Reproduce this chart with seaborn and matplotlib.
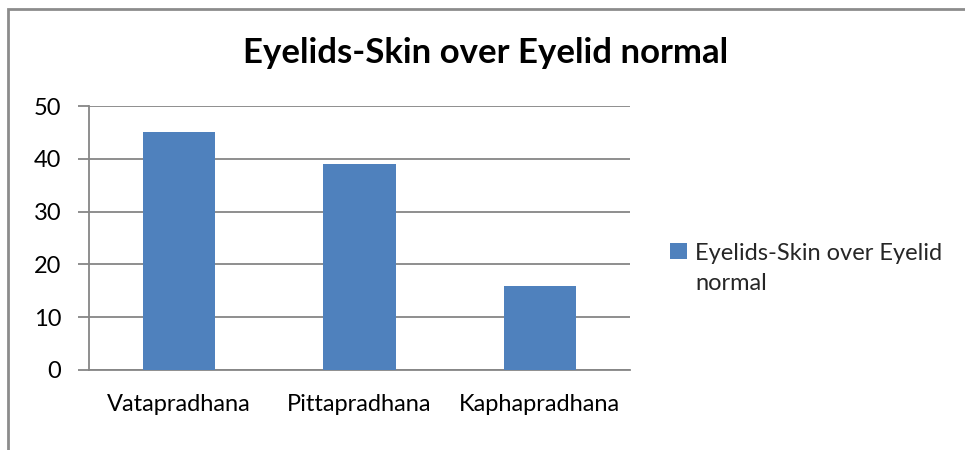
import matplotlib
matplotlib.use("Agg")
import matplotlib.pyplot as plt
import seaborn as sns
import pandas as pd
from matplotlib.patches import Rectangle, Patch

categories = ["Vatapradhana", "Pittapradhana", "Kaphapradhana"]
values = [45, 39, 16]
series_name = "Eyelids-Skin over Eyelid normal"
y_ticks = [0, 10, 20, 30, 40, 50]

sns.set_theme(style="white")
plt.rcParams["font.family"] = ["Lato", "DejaVu Sans"]

bar_color = "#4F81BD"
grid_color = "#868686"

df = pd.DataFrame({"category": categories, "value": values})

fig = plt.figure(figsize=(9.65, 4.5), dpi=100)
ax = fig.add_axes([0.0922, 0.1778, 0.5606, 0.5866])

sns.barplot(data=df, x="category", y="value", color=bar_color,
            width=0.4, saturation=1, ax=ax, zorder=3,
            edgecolor="none", linewidth=0)

ax.set_xlim(-0.5, 2.5)
ax.set_ylim(0, 50)
ax.set_yticks(y_ticks)
ax.set_yticklabels([str(t) for t in y_ticks], fontsize=17, color="black")
ax.yaxis.grid(True, color=grid_color, linewidth=1.3, zorder=0)
ax.set_axisbelow(True)

# category labels centred under bars, tick marks on category boundaries
ax.set_xticks(range(len(categories)))
ax.set_xticklabels(categories, fontsize=17, color="black")
ax.tick_params(axis="x", which="major", length=0, pad=17)
ax.set_xticks([-0.5, 0.5, 1.5, 2.5], minor=True)
ax.tick_params(axis="x", which="minor", length=8, width=1.3,
               color=grid_color, direction="out")
ax.tick_params(axis="y", which="major", length=8, width=1.3,
               color=grid_color, direction="out", pad=12, left=True)

for side in ["top", "right"]:
    ax.spines[side].set_visible(False)
for side in ["left", "bottom"]:
    ax.spines[side].set_color(grid_color)
    ax.spines[side].set_linewidth(1.3)

ax.set_xlabel("")
ax.set_ylabel("")

fig.text(0.503, 0.882, series_name, ha="center", va="center",
         fontsize=25, fontweight="bold", color="black")

legend_size = 17
line_spacing = 1.5
handle = Patch(facecolor=bar_color, edgecolor="none")
leg = fig.legend([handle], ["Eyelids-Skin over Eyelid\nnormal"],
                 loc="upper left", bbox_to_anchor=(0.685, 0.48),
                 frameon=False, fontsize=legend_size, handlelength=0.7,
                 handleheight=0.7, handletextpad=0.35, borderaxespad=0)
for t in leg.get_texts():
    t.set_linespacing(line_spacing)
# keep the colour swatch level with the first line of the wrapped label
for h in leg.legend_handles:
    h.set_y(h.get_y() + 0.5 * line_spacing * legend_size)

# outer chart frame
fig.patches.append(Rectangle((7.5 / 965, -0.05), 1.0, 1 - 8.5 / 450 + 0.05,
                             transform=fig.transFigure, fill=False,
                             edgecolor="#8C8C8C", linewidth=2.0))

fig.savefig("out.png", dpi=100, facecolor="white")
